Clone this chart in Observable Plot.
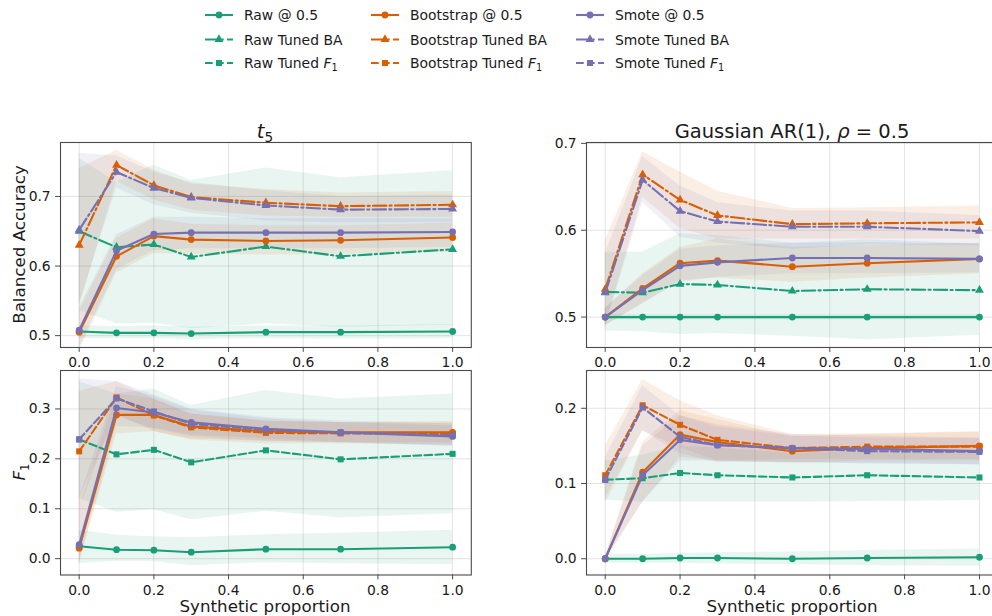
<!DOCTYPE html>
<html><head><meta charset="utf-8">
<script src="https://cdn.jsdelivr.net/npm/d3@7"></script>
<script src="https://cdn.jsdelivr.net/npm/@observablehq/plot@0.6"></script>
<style>
body{margin:0;background:#fff;}
#root{position:relative;width:992px;height:616px;overflow:hidden;background:#fff;font-family:"DejaVu Sans",sans-serif;}
#root svg{position:absolute;overflow:visible;}
</style></head><body><div id="root"></div>
<script>
// ---------- data ----------
const xs = [0, 0.1, 0.2, 0.3, 0.5, 0.7, 1.0];
const xTicks = [0, 0.2, 0.4, 0.6, 0.8, 1.0];
const methods = ["Raw", "Bootstrap", "Smote"];
const methodColors = ["#1b9e77", "#d95f02", "#7570b3"];

// t5 — Balanced Accuracy
const t5_ba_raw05    = [0.506, 0.504, 0.504, 0.503, 0.505, 0.505, 0.506];
const t5_ba_raw05_lo = [0.496, 0.496, 0.496, 0.494, 0.496, 0.495, 0.496];
const t5_ba_raw05_hi = [0.514, 0.513, 0.514, 0.512, 0.514, 0.514, 0.516];
const t5_ba_rawT     = [0.650, 0.627, 0.631, 0.613, 0.628, 0.614, 0.624];
const t5_ba_rawT_lo  = [0.536, 0.517, 0.518, 0.510, 0.517, 0.512, 0.515];
const t5_ba_rawT_hi  = [0.755, 0.720, 0.745, 0.723, 0.741, 0.727, 0.737];
const t5_ba_boot05    = [0.505, 0.614, 0.643, 0.638, 0.636, 0.637, 0.641];
const t5_ba_boot05_lo = [0.478, 0.590, 0.618, 0.617, 0.616, 0.617, 0.620];
const t5_ba_boot05_hi = [0.535, 0.640, 0.668, 0.660, 0.658, 0.658, 0.662];
const t5_ba_bootT     = [0.630, 0.745, 0.716, 0.699, 0.691, 0.686, 0.688];
const t5_ba_bootT_lo  = [0.540, 0.722, 0.695, 0.680, 0.672, 0.670, 0.670];
const t5_ba_bootT_hi  = [0.740, 0.766, 0.738, 0.718, 0.710, 0.705, 0.707];
const t5_ba_smote05    = [0.508, 0.622, 0.646, 0.648, 0.648, 0.648, 0.649];
const t5_ba_smote05_lo = [0.482, 0.595, 0.622, 0.625, 0.625, 0.625, 0.627];
const t5_ba_smote05_hi = [0.540, 0.645, 0.670, 0.670, 0.668, 0.668, 0.668];
const t5_ba_smoteT     = [0.652, 0.735, 0.712, 0.698, 0.687, 0.681, 0.682];
const t5_ba_smoteT_lo  = [0.545, 0.712, 0.688, 0.676, 0.665, 0.662, 0.663];
const t5_ba_smoteT_hi  = [0.762, 0.758, 0.735, 0.720, 0.708, 0.700, 0.702];

// Gaussian AR(1) — Balanced Accuracy
const ar_ba_raw05    = [0.500, 0.500, 0.500, 0.500, 0.500, 0.500, 0.500];
const ar_ba_raw05_lo = [0.497, 0.497, 0.497, 0.497, 0.497, 0.497, 0.497];
const ar_ba_raw05_hi = [0.503, 0.503, 0.503, 0.503, 0.503, 0.503, 0.503];
const ar_ba_rawT     = [0.529, 0.528, 0.538, 0.537, 0.530, 0.532, 0.531];
const ar_ba_rawT_lo  = [0.484, 0.483, 0.480, 0.481, 0.478, 0.474, 0.479];
const ar_ba_rawT_hi  = [0.574, 0.575, 0.596, 0.594, 0.585, 0.589, 0.584];
const ar_ba_boot05    = [0.500, 0.533, 0.562, 0.565, 0.558, 0.562, 0.567];
const ar_ba_boot05_lo = [0.490, 0.515, 0.542, 0.545, 0.540, 0.545, 0.550];
const ar_ba_boot05_hi = [0.510, 0.550, 0.580, 0.590, 0.580, 0.582, 0.585];
const ar_ba_bootT     = [0.532, 0.664, 0.635, 0.617, 0.607, 0.608, 0.609];
const ar_ba_bootT_lo  = [0.490, 0.638, 0.602, 0.590, 0.590, 0.590, 0.590];
const ar_ba_bootT_hi  = [0.588, 0.690, 0.667, 0.645, 0.625, 0.626, 0.628];
const ar_ba_smote05    = [0.500, 0.531, 0.559, 0.563, 0.568, 0.568, 0.567];
const ar_ba_smote05_lo = [0.490, 0.516, 0.540, 0.546, 0.550, 0.550, 0.551];
const ar_ba_smote05_hi = [0.510, 0.548, 0.578, 0.582, 0.585, 0.586, 0.584];
const ar_ba_smoteT     = [0.528, 0.658, 0.622, 0.610, 0.604, 0.604, 0.599];
const ar_ba_smoteT_lo  = [0.487, 0.632, 0.592, 0.585, 0.578, 0.583, 0.582];
const ar_ba_smoteT_hi  = [0.573, 0.685, 0.651, 0.632, 0.622, 0.622, 0.617];

// t5 — F1
const t5_f1_raw05    = [0.025, 0.018, 0.017, 0.013, 0.019, 0.019, 0.023];
const t5_f1_raw05_lo = [-0.010, -0.005, -0.006, -0.014, -0.008, -0.010, -0.012];
const t5_f1_raw05_hi = [0.057, 0.047, 0.044, 0.042, 0.048, 0.051, 0.057];
const t5_f1_rawT     = [0.239, 0.209, 0.218, 0.193, 0.217, 0.199, 0.210];
const t5_f1_rawT_lo  = [0.120, 0.093, 0.098, 0.078, 0.095, 0.082, 0.090];
const t5_f1_rawT_hi  = [0.355, 0.330, 0.340, 0.307, 0.337, 0.320, 0.330];
const t5_f1_boot05    = [0.021, 0.288, 0.288, 0.265, 0.255, 0.253, 0.253];
const t5_f1_boot05_lo = [-0.010, 0.250, 0.255, 0.240, 0.235, 0.232, 0.232];
const t5_f1_boot05_hi = [0.100, 0.330, 0.320, 0.290, 0.276, 0.273, 0.275];
const t5_f1_bootT     = [0.215, 0.323, 0.287, 0.263, 0.252, 0.251, 0.250];
const t5_f1_bootT_lo  = [0.100, 0.290, 0.255, 0.238, 0.230, 0.230, 0.228];
const t5_f1_bootT_hi  = [0.335, 0.355, 0.320, 0.290, 0.275, 0.272, 0.272];
const t5_f1_smote05    = [0.028, 0.302, 0.293, 0.273, 0.260, 0.253, 0.245];
const t5_f1_smote05_lo = [-0.010, 0.265, 0.262, 0.248, 0.240, 0.233, 0.225];
const t5_f1_smote05_hi = [0.120, 0.345, 0.325, 0.298, 0.280, 0.273, 0.266];
const t5_f1_smoteT     = [0.239, 0.321, 0.295, 0.270, 0.258, 0.253, 0.247];
const t5_f1_smoteT_lo  = [0.120, 0.285, 0.260, 0.245, 0.235, 0.232, 0.225];
const t5_f1_smoteT_hi  = [0.360, 0.355, 0.328, 0.300, 0.283, 0.276, 0.270];

// Gaussian AR(1) — F1
const ar_f1_raw05    = [0.000, 0.000, 0.001, 0.001, 0.000, 0.001, 0.002];
const ar_f1_raw05_lo = [-0.006, -0.006, -0.006, -0.007, -0.008, -0.009, -0.010];
const ar_f1_raw05_hi = [0.006, 0.006, 0.007, 0.008, 0.009, 0.011, 0.013];
const ar_f1_rawT     = [0.105, 0.107, 0.114, 0.111, 0.108, 0.111, 0.108];
const ar_f1_rawT_lo  = [0.078, 0.075, 0.075, 0.075, 0.075, 0.076, 0.077];
const ar_f1_rawT_hi  = [0.130, 0.138, 0.150, 0.147, 0.140, 0.143, 0.140];
const ar_f1_boot05    = [0.000, 0.115, 0.165, 0.155, 0.143, 0.147, 0.150];
const ar_f1_boot05_lo = [-0.002, 0.075, 0.135, 0.130, 0.127, 0.130, 0.130];
const ar_f1_boot05_hi = [0.003, 0.155, 0.197, 0.185, 0.162, 0.165, 0.168];
const ar_f1_bootT     = [0.111, 0.204, 0.178, 0.158, 0.147, 0.149, 0.149];
const ar_f1_bootT_lo  = [0.073, 0.170, 0.148, 0.130, 0.132, 0.132, 0.132];
const ar_f1_bootT_hi  = [0.150, 0.238, 0.210, 0.190, 0.165, 0.166, 0.169];
const ar_f1_smote05    = [0.000, 0.111, 0.158, 0.151, 0.147, 0.146, 0.143];
const ar_f1_smote05_lo = [-0.002, 0.075, 0.130, 0.130, 0.128, 0.127, 0.125];
const ar_f1_smote05_hi = [0.003, 0.150, 0.190, 0.178, 0.165, 0.163, 0.160];
const ar_f1_smoteT     = [0.105, 0.201, 0.162, 0.151, 0.147, 0.143, 0.142];
const ar_f1_smoteT_lo  = [0.080, 0.170, 0.140, 0.128, 0.128, 0.126, 0.125];
const ar_f1_smoteT_hi  = [0.135, 0.230, 0.190, 0.175, 0.163, 0.160, 0.160];

// ---------- styling ----------
const KIND = {
  p05: {dash: null, symbol: "circle", r: 3.4},
  ba:  {dash: "13.3,3.3,2.1,3.3", symbol: "triangle", r: 3.3},
  f1:  {dash: "7.7,3.3", symbol: "square", r: 3.4}
};

function series(color, kind, mean, lo, hi) {
  return {color, kind, rows: xs.map((x, i) => ({x, y: mean[i], lo: lo[i], hi: hi[i]}))};
}

const root = document.getElementById("root");

function panel(frame, yDomain, yTicks, list) {
  const [x0, y0, x1, y1] = frame;
  const mL = 60, mT = 40, mR = 20, mB = 45;
  const marks = [
    Plot.gridX(xTicks, {stroke: "#b0b0b0", strokeOpacity: 0.35, strokeWidth: 1}),
    Plot.gridY(yTicks, {stroke: "#b0b0b0", strokeOpacity: 0.35, strokeWidth: 1})
  ];
  for (const s of list) {
    marks.push(Plot.areaY(s.rows, {x: "x", y1: "lo", y2: "hi", fill: s.color, fillOpacity: 0.1, clip: true}));
  }
  for (const s of list) {
    const k = KIND[s.kind];
    marks.push(Plot.line(s.rows, {x: "x", y: "y", stroke: s.color, strokeWidth: 2.1, strokeDasharray: k.dash, clip: true}));
    marks.push(Plot.dot(s.rows, {x: "x", y: "y", symbol: k.symbol, r: k.r, fill: s.color, stroke: "none"}));
  }
  marks.push(Plot.frame({stroke: "#4a4a4a", strokeWidth: 1.1}));
  marks.push(Plot.axisX({ticks: xTicks, tickFormat: d => d.toFixed(1), tickSize: 4.9, tickPadding: 4.9, stroke: "#4a4a4a", label: null}));
  marks.push(Plot.axisY({ticks: yTicks, tickFormat: d => d.toFixed(1), tickSize: 4.9, tickPadding: 4.9, stroke: "#4a4a4a", label: null}));
  const svg = Plot.plot({
    width: x1 - x0 + mL + mR,
    height: y1 - y0 + mT + mB,
    marginLeft: mL, marginTop: mT, marginRight: mR, marginBottom: mB,
    x: {domain: [-0.05, 1.05]},
    y: {domain: yDomain},
    style: {fontFamily: "DejaVu Sans", fontSize: "13.9px", color: "#1a1a1a", background: "transparent", overflow: "visible"},
    marks
  });
  svg.style.left = (x0 - mL) + "px";
  svg.style.top = (y0 - mT) + "px";
  root.appendChild(svg);
}

const [cR, cB, cS] = methodColors;
panel([59.6, 142, 470.4, 347], [0.483, 0.7775], [0.5, 0.6, 0.7], [
  series(cR, "p05", t5_ba_raw05, t5_ba_raw05_lo, t5_ba_raw05_hi),
  series(cR, "ba", t5_ba_rawT, t5_ba_rawT_lo, t5_ba_rawT_hi),
  series(cB, "p05", t5_ba_boot05, t5_ba_boot05_lo, t5_ba_boot05_hi),
  series(cB, "ba", t5_ba_bootT, t5_ba_bootT_lo, t5_ba_bootT_hi),
  series(cS, "p05", t5_ba_smote05, t5_ba_smote05_lo, t5_ba_smote05_hi),
  series(cS, "ba", t5_ba_smoteT, t5_ba_smoteT_lo, t5_ba_smoteT_hi)
]);
panel([586.3, 142, 998, 347], [0.465, 0.701], [0.5, 0.6, 0.7], [
  series(cR, "p05", ar_ba_raw05, ar_ba_raw05_lo, ar_ba_raw05_hi),
  series(cR, "ba", ar_ba_rawT, ar_ba_rawT_lo, ar_ba_rawT_hi),
  series(cB, "p05", ar_ba_boot05, ar_ba_boot05_lo, ar_ba_boot05_hi),
  series(cB, "ba", ar_ba_bootT, ar_ba_bootT_lo, ar_ba_bootT_hi),
  series(cS, "p05", ar_ba_smote05, ar_ba_smote05_lo, ar_ba_smote05_hi),
  series(cS, "ba", ar_ba_smoteT, ar_ba_smoteT_lo, ar_ba_smoteT_hi)
]);
panel([59.6, 370, 470.4, 574.5], [-0.0327, 0.377], [0, 0.1, 0.2, 0.3], [
  series(cR, "p05", t5_f1_raw05, t5_f1_raw05_lo, t5_f1_raw05_hi),
  series(cR, "f1", t5_f1_rawT, t5_f1_rawT_lo, t5_f1_rawT_hi),
  series(cB, "p05", t5_f1_boot05, t5_f1_boot05_lo, t5_f1_boot05_hi),
  series(cB, "f1", t5_f1_bootT, t5_f1_bootT_lo, t5_f1_bootT_hi),
  series(cS, "p05", t5_f1_smote05, t5_f1_smote05_lo, t5_f1_smote05_hi),
  series(cS, "f1", t5_f1_smoteT, t5_f1_smoteT_lo, t5_f1_smoteT_hi)
]);
panel([586.3, 370, 998, 574.5], [-0.0216, 0.2502], [0, 0.1, 0.2], [
  series(cR, "p05", ar_f1_raw05, ar_f1_raw05_lo, ar_f1_raw05_hi),
  series(cR, "f1", ar_f1_rawT, ar_f1_rawT_lo, ar_f1_rawT_hi),
  series(cB, "p05", ar_f1_boot05, ar_f1_boot05_lo, ar_f1_boot05_hi),
  series(cB, "f1", ar_f1_bootT, ar_f1_bootT_lo, ar_f1_bootT_hi),
  series(cS, "p05", ar_f1_smote05, ar_f1_smote05_lo, ar_f1_smote05_hi),
  series(cS, "f1", ar_f1_smoteT, ar_f1_smoteT_lo, ar_f1_smoteT_hi)
]);

// ---------- text overlay & legend ----------
const ov = d3.select(root).append("svg")
  .attr("width", 992).attr("height", 616)
  .style("left", "0px").style("top", "0px")
  .attr("font-family", "DejaVu Sans").attr("fill", "#1a1a1a");

function richText(t, parts, size) {
  let shifted = false;
  for (const [s, st] of parts) {
    const ts = t.append("tspan").text(s);
    if (st === "i") ts.attr("font-style", "italic");
    if (st === "sub") { ts.attr("font-size", size * 0.7).attr("dy", size * 0.22); shifted = true; }
    else if (shifted) { ts.attr("dy", -size * 0.22); shifted = false; }
  }
  return t;
}

// titles
const titleSize = 19.5;
richText(ov.append("text").attr("x", 265).attr("y", 137.5).attr("text-anchor", "middle").attr("font-size", titleSize),
  [["t", "i"], ["5", "sub"]], titleSize);
richText(ov.append("text").attr("x", 792).attr("y", 137.5).attr("text-anchor", "middle").attr("font-size", titleSize),
  [["Gaussian AR(1), ", "n"], ["ρ", "i"], [" = 0.5", "n"]], titleSize);

// y labels
ov.append("text").attr("transform", "translate(25,244.5) rotate(-90)").attr("text-anchor", "middle")
  .attr("font-size", 16.7).text("Balanced Accuracy");
richText(ov.append("text").attr("transform", "translate(25,472) rotate(-90)").attr("text-anchor", "middle").attr("font-size", 16.7),
  [["F", "i"], ["1", "sub"]], 16.7);

// x labels
for (const cx of [265, 792]) {
  ov.append("text").attr("x", cx).attr("y", 612).attr("text-anchor", "middle").attr("font-size", 16.7).text("Synthetic proportion");
}

// legend
const legendX = [205, 371, 576];
const legendY = [15, 39.5, 63];
const kinds = ["p05", "ba", "f1"];
const kindLabels = [[["@ 0.5", "n"]], [["Tuned BA", "n"]], [["Tuned ", "n"], ["F", "i"], ["1", "sub"]]];
const sym = {circle: d3.symbolCircle, triangle: d3.symbolTriangle, square: d3.symbolSquare};
methods.forEach((m, ci) => {
  kinds.forEach((k, ri) => {
    const lx = legendX[ci], ly = legendY[ri], col = methodColors[ci], K = KIND[k];
    ov.append("line").attr("x1", lx).attr("x2", lx + 28).attr("y1", ly).attr("y2", ly)
      .attr("stroke", col).attr("stroke-width", 2.1).attr("stroke-dasharray", K.dash);
    ov.append("path").attr("transform", `translate(${lx + 14},${ly})`)
      .attr("d", d3.symbol(sym[K.symbol], Math.PI * K.r * K.r)()).attr("fill", col);
    const t = ov.append("text").attr("x", lx + 39).attr("y", ly + 5).attr("font-size", 13.9);
    richText(t, [[m + " ", "n"], ...kindLabels[ri]], 13.9);
  });
});
</script></body></html>
